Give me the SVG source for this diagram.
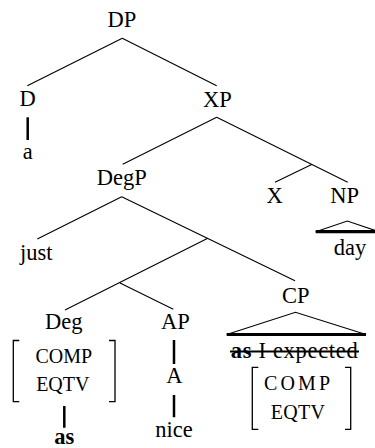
<svg xmlns="http://www.w3.org/2000/svg" width="375" height="448" viewBox="0 0 375 448">
<style>
text{font-family:"Liberation Serif",serif;font-size:22.5px;fill:#000;text-anchor:middle}
.f{font-size:20px}
.b{font-weight:bold}
.e{fill:none;stroke:#000;stroke-width:1.1}
.v{fill:none;stroke:#000;stroke-width:2.5}
.t{fill:none;stroke:#000;stroke-width:3.2}
.k{fill:none;stroke:#000;stroke-width:1.3}
</style>
<rect width="375" height="448" fill="#fff"/>
<g id="connectors">
<path class="e" d="M122.3,38.3L27.3,85.7M122.3,38.3L216.7,85.7"/>
<path class="v" d="M27.7,117.3V140"/>
<path class="e" d="M216.7,117.3L122.7,164.3M216.7,117.3L347.7,182.3M311.7,164.6L275,182.3"/>
<path class="e" d="M121.7,196.7L37.3,239M121.7,196.7L295,280.7M207.3,238.5L65,310M120,283L173.3,309.3"/>
<path class="v" d="M174,340V364M174,395V417.3M64.3,406V427.7"/>
</g>
<g id="DP"><text x="122" y="27.3">DP</text></g>
<g id="D"><text x="27.5" y="106">D</text></g>
<g id="a"><text x="27.8" y="159.3">a</text></g>
<g id="XP"><text x="217.3" y="106.7">XP</text></g>
<g id="DegP"><text x="121.7" y="185">DegP</text></g>
<g id="X"><text x="274.7" y="203.3">X</text></g>
<g id="NP"><text x="344.7" y="203.3">NP</text>
<path class="e" d="M315.7,231.7L347.3,221L379,231.7"/>
<path class="t" d="M315.7,231.7H379"/>
<text x="350" y="255">day</text></g>
<g id="just"><text x="36.3" y="259.5">just</text></g>
<g id="CP"><text x="295.8" y="303.3">CP</text>
<path class="e" d="M226.7,334.5L295.5,312.3L366,334.5"/>
<path class="t" d="M226.7,334.5H366"/>
<text x="294.2" y="358" textLength="127" lengthAdjust="spacing"><tspan class="b">as</tspan> I expected</text>
<path class="v" d="M230,351.5H359" style="stroke-width:2.2"/>
<path class="k" d="M258.3,367.3H252.3V429.3H258.3M345,367.3H350.7V429.3H345"/>
<text class="f" x="297" y="390" textLength="66" lengthAdjust="spacing">COMP</text>
<text class="f" x="297.8" y="419" textLength="54.3" lengthAdjust="spacing">EQTV</text></g>
<g id="Deg"><text x="63.8" y="329.3">Deg</text>
<path class="k" d="M19.3,340.5H13.3V401.7H19.3M109,340.5H115V401.7H109"/>
<text class="f" x="63.8" y="363.3">COMP</text>
<text class="f" x="62.8" y="391">EQTV</text>
<text class="b" x="64.2" y="443.5">as</text></g>
<g id="AP"><text x="175.3" y="329.3">AP</text>
<text x="174.3" y="383.3">A</text>
<text x="174" y="436.7">nice</text></g>
</svg>
